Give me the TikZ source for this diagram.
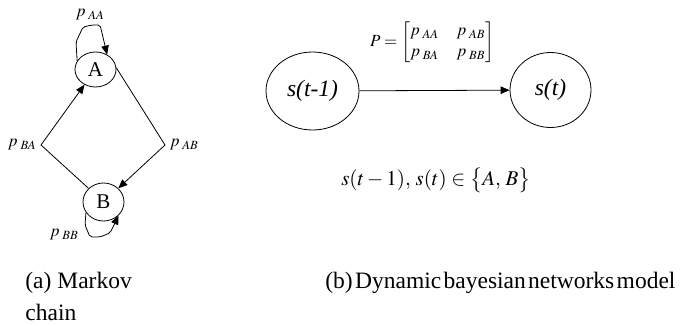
\documentclass[tikz,border=0pt]{standalone}
\usepackage{amsmath}
\usepackage{mathptmx}
\usepackage[no-math]{fontspec}
\setmainfont{Liberation Serif}
\usetikzlibrary{arrows.meta,shapes.geometric}
\tikzset{
  stnode/.style={draw,ellipse,inner sep=0pt,font=\fontsize{21}{24}\selectfont},
  bigst/.style={draw,ellipse,inner sep=0pt,font=\fontsize{23.5}{28}\selectfont\itshape},
  lbl/.style={inner sep=0pt,font=\fontsize{17}{20}\selectfont},
  captxt/.style={inner sep=0pt,anchor=west,font=\fontsize{23.5}{28}\selectfont},
  arr/.style={-{Triangle[length=9pt,width=7.5pt]}},
  every path/.style={line width=0.8pt}
}
\begin{document}
\begin{tikzpicture}[x=1pt,y=-1pt]
\useasboundingbox (0,0) rectangle (682,326);
% (a) Markov chain
\node[stnode,minimum width=41pt,minimum height=35pt] (A) at (95.5,69.5) {A};
\node[stnode,minimum width=41pt,minimum height=38pt] (B) at (103.5,202) {B};
\coordinate (cl) at (41,145);
\coordinate (cr) at (165,145);
\draw[arr] (B) -- (cl) -- (A);
\draw[arr] (A.5) -- (cr) -- (B);
\draw[arr,rounded corners=2pt] (A.155) -- (76,42) -- (83,27) -- (92,25) -- (100,25) -- (102,33) -- (A.52);
\draw[arr,rounded corners=2pt] (B.211) -- (85,225) -- (90,237) -- (100,237) -- (110,233) -- (115,223) -- (B.318);
\node[lbl] (pAA) at (90,15) {$p_{\;AA}$};
\node[lbl] (pBA) at (22,145) {$p_{\;BA}$};
\node[lbl] (pAB) at (184,145) {$p_{\;AB}$};
\node[lbl] (pBB) at (64,235) {$p_{\;BB}$};
\node[captxt] (capa1) at (25,283) {(a) Markov};
\node[captxt] (capa2) at (25,312) {chain};
% (b) Dynamic bayesian networks model
\node[bigst,minimum width=93pt,minimum height=78pt] (s1) at (312.5,91) {s(t-1)};
\node[bigst,minimum width=81pt,minimum height=75pt] (s2) at (550.5,90) {s(t)};
\draw[arr] (s1) -- (s2);
\node[lbl,font=\fontsize{17}{21}\selectfont] (P) at (432,42)
  {\arraycolsep=9pt$P=\begin{bmatrix} p_{\;AA} & p_{\;AB}\\ p_{\;BA} & p_{\;BB}\end{bmatrix}$};
\node[lbl,font=\fontsize{21}{25}\selectfont] (set) at (436,180)
  {$s(t-1),\,s(t)\in\bigl\{A,\,B\bigr\}$};
\node[captxt] (capb) at (325,283) {\spaceskip=0.1em (b) Dynamic bayesian networks model};
\end{tikzpicture}
\end{document}
